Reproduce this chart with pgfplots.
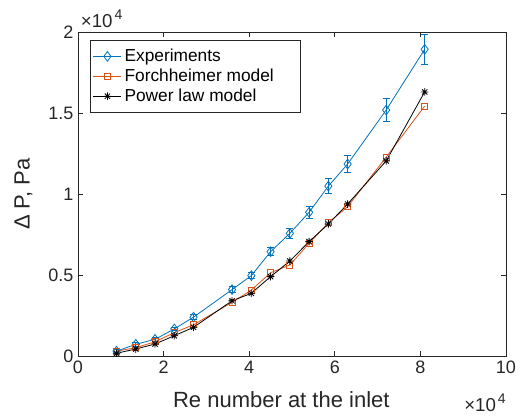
\documentclass[border=0pt]{standalone}
\usepackage{fontspec}
\setmainfont{Liberation Sans}
\usepackage{pgfplots}
\usepackage{pgfplotstable}
\pgfplotsset{compat=1.18}
\definecolor{mblue}{rgb}{0,0.447,0.741}
\definecolor{morange}{rgb}{0.85,0.325,0.098}
\definecolor{axgray}{rgb}{0.15,0.15,0.15}
\pgfdeclareplotmark{mstar}{%
  \pgfpathmoveto{\pgfqpoint{-\pgfplotmarksize}{0pt}}\pgfpathlineto{\pgfqpoint{\pgfplotmarksize}{0pt}}%
  \pgfpathmoveto{\pgfqpoint{0pt}{-\pgfplotmarksize}}\pgfpathlineto{\pgfqpoint{0pt}{\pgfplotmarksize}}%
  \pgfpathmoveto{\pgfqpoint{-0.707\pgfplotmarksize}{-0.707\pgfplotmarksize}}\pgfpathlineto{\pgfqpoint{0.707\pgfplotmarksize}{0.707\pgfplotmarksize}}%
  \pgfpathmoveto{\pgfqpoint{-0.707\pgfplotmarksize}{0.707\pgfplotmarksize}}\pgfpathlineto{\pgfqpoint{0.707\pgfplotmarksize}{-0.707\pgfplotmarksize}}%
  \pgfusepathqstroke}
\pgfplotstableread{
x    y     e
0.9  0.030 0.008
1.35 0.072 0.010
1.8  0.103 0.010
2.25 0.167 0.012
2.7  0.240 0.014
3.6  0.410 0.018
4.05 0.496 0.020
4.5  0.644 0.025
4.95 0.757 0.030
5.4  0.887 0.038
5.85 1.049 0.046
6.3  1.185 0.051
7.2  1.518 0.070
8.1  1.893 0.095
}\exptable
\pgfplotstableread{
x    y
0.9  0.030
1.35 0.051
1.8  0.088
2.25 0.144
2.7  0.193
3.6  0.331
4.05 0.407
4.5  0.514
4.95 0.562
5.4  0.696
5.85 0.823
6.3  0.922
7.2  1.227
8.1  1.543
}\forchtable
\pgfplotstableread{
x    y
0.9  0.017
1.35 0.043
1.8  0.074
2.25 0.125
2.7  0.177
3.6  0.341
4.05 0.387
4.5  0.490
4.95 0.586
5.4  0.706
5.85 0.815
6.3  0.938
7.2  1.204
8.1  1.630
}\powtable
\begin{document}
\begin{tikzpicture}
\useasboundingbox (-58.5pt,-45.75pt) rectangle (335.25pt,267pt);
\begin{axis}[
  scale only axis, width=321pt, height=243pt,
  xmin=0, xmax=10, ymin=0, ymax=2,
  xtick={0,2,4,6,8,10}, ytick={0,0.5,1,1.5,2},
  axis line style={axgray, line width=0.5pt},
  tick style={axgray, line width=0.5pt},
  tick align=inside, tick pos=both, major tick length=3.5pt,
  /pgf/number format/assume math mode=true,
  ticklabel style={font=\fontsize{13.5}{16}\selectfont, text=axgray},
  xlabel={Re number at the inlet}, ylabel={Δ P, Pa},
  label style={font=\fontsize{16.5}{19}\selectfont, text=axgray},
  xlabel style={at={(axis description cs:0.5,0)}, anchor=base, xshift=-8pt, yshift=-39pt},
  ylabel style={yshift=5pt},
  legend style={at={(0.028,0.975)}, anchor=north west, draw=axgray, line width=0.5pt,
    font=\fontsize{13}{15.5}\selectfont, text=black, cells={anchor=west},
    inner xsep=2pt, inner ysep=4.5pt, row sep=0pt},
  legend image code/.code={\draw[mark repeat=2, mark phase=2] plot coordinates {(0cm,0cm) (0.37cm,0cm) (0.74cm,0cm)};},
  clip=false,
]
\addplot[mblue, line width=0.6pt, mark=diamond, mark size=3.6pt,
  error bars/.cd, y dir=both, y explicit,
  error bar style={line width=0.6pt, mblue},
  error mark options={rotate=90, mblue, mark size=2.6pt, line width=0.6pt}]
  table[x=x, y=y, y error=e] {\exptable};
\addlegendentry{Experiments}
\addplot[morange, line width=0.6pt, mark=square, mark size=2.25pt] table[x=x, y=y] {\forchtable};
\addlegendentry{\makebox[128pt][l]{Forchheimer model}}
\addplot[black, line width=0.6pt, mark=mstar, mark size=2.8pt] table[x=x, y=y] {\powtable};
\addlegendentry{Power law model}
\node[anchor=base west, font=\fontsize{14}{16}\selectfont, text=axgray, inner sep=0pt]
  at ([xshift=2pt,yshift=3.5pt]rel axis cs:0,1) {×10\hspace{1.5pt}\raisebox{0.8ex}{\fontsize{10.5}{10}\selectfont 4}};
\node[anchor=base east, font=\fontsize{14}{16}\selectfont, text=axgray, inner sep=0pt]
  at ([yshift=-41.8pt]rel axis cs:1,0) {×10\hspace{1.5pt}\raisebox{0.8ex}{\fontsize{10.5}{10}\selectfont 4}};
\end{axis}
\end{tikzpicture}
\end{document}
